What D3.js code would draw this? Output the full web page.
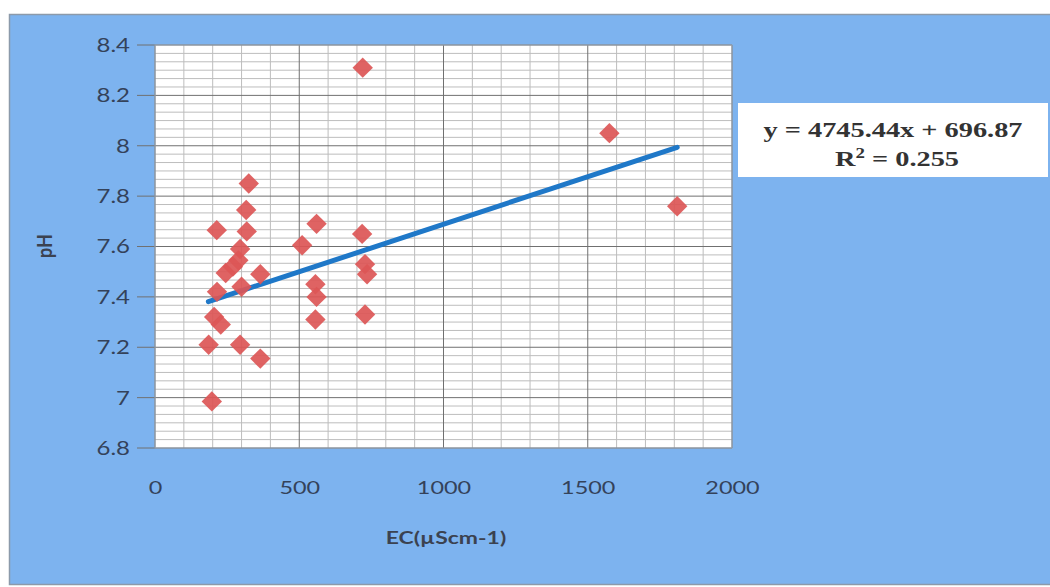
<!DOCTYPE html>
<html>
<head>
<meta charset="utf-8">
<script src="https://cdn.jsdelivr.net/npm/d3@7"></script>
<style>
  html, body { margin: 0; padding: 0; background: #ffffff; }
  svg { display: block; }
</style>
</head>
<body>
<svg id="chart" width="1050" height="587"></svg>
<script>
// EC (µS/cm) against pH for the sampled waters
const ecValues = [720, 1575, 1810, 325, 316, 214, 318, 295, 289, 245, 365, 300, 215, 270,
                  560, 718, 510, 728, 735, 556, 560, 556, 728,
                  205, 228, 186, 295, 365, 197];
const phValues = [8.31, 8.05, 7.76, 7.85, 7.745, 7.665, 7.66, 7.59, 7.545, 7.495, 7.49, 7.44, 7.42, 7.52,
                  7.69, 7.65, 7.605, 7.53, 7.49, 7.45, 7.40, 7.31, 7.33,
                  7.32, 7.29, 7.21, 7.21, 7.155, 6.985];

// Linear trend line, drawn between its two end points
const trendEC = [185, 1810];
const trendPH = [7.381, 7.994];

const xTicks = [0, 500, 1000, 1500, 2000];
const yTicks = [6.8, 7, 7.2, 7.4, 7.6, 7.8, 8, 8.2, 8.4];
const xMinorStep = 100;
const yMinorDivisions = 6;

const equationText = "y = 4745.44x + 696.87";
const r2Value = "0.255";

const svg = d3.select("#chart");

// Background panel
svg.append("rect")
  .attr("x", 9.5).attr("y", 14.5)
  .attr("width", 1045).attr("height", 570)
  .attr("fill", "#7db3ef")
  .attr("stroke", "#8c9aaa")
  .attr("stroke-width", 1.5);

const plot = { left: 155, right: 732, top: 45, bottom: 448 };

const x = d3.scaleLinear().domain([0, 2000]).range([plot.left, plot.right]);
const y = d3.scaleLinear().domain([6.8, 8.4]).range([plot.bottom, plot.top]);

// Plot area
svg.append("rect")
  .attr("x", plot.left).attr("y", plot.top)
  .attr("width", plot.right - plot.left).attr("height", plot.bottom - plot.top)
  .attr("fill", "#ffffff");

const grid = svg.append("g");

// Minor gridlines
const xMinor = d3.range(0, 2000 + 1, xMinorStep).filter(v => v % 500 !== 0);
grid.selectAll("line.xminor").data(xMinor).join("line")
  .attr("x1", d => x(d)).attr("x2", d => x(d))
  .attr("y1", plot.top).attr("y2", plot.bottom)
  .attr("stroke", "#bdbdbd").attr("stroke-width", 1);

const yMinor = [];
for (let i = 0; i < yTicks.length - 1; i++) {
  for (let k = 1; k < yMinorDivisions; k++) {
    yMinor.push(yTicks[i] + (yTicks[i + 1] - yTicks[i]) * k / yMinorDivisions);
  }
}
grid.selectAll("line.yminor").data(yMinor).join("line")
  .attr("x1", plot.left).attr("x2", plot.right)
  .attr("y1", d => y(d)).attr("y2", d => y(d))
  .attr("stroke", "#bdbdbd").attr("stroke-width", 1);

// Major gridlines
grid.selectAll("line.xmajor").data(xTicks).join("line")
  .attr("x1", d => x(d)).attr("x2", d => x(d))
  .attr("y1", plot.top).attr("y2", plot.bottom)
  .attr("stroke", "#707070").attr("stroke-width", 1);
grid.selectAll("line.ymajor").data(yTicks).join("line")
  .attr("x1", plot.left - 18).attr("x2", plot.right)
  .attr("y1", d => y(d)).attr("y2", d => y(d))
  .attr("stroke", "#707070").attr("stroke-width", 1);

// Plot border
svg.append("rect")
  .attr("x", plot.left).attr("y", plot.top)
  .attr("width", plot.right - plot.left).attr("height", plot.bottom - plot.top)
  .attr("fill", "none")
  .attr("stroke", "#9aa6b4").attr("stroke-width", 1);

// Axis labels through d3 axis generators
const labelColor = "#34425a";
const tickFont = "Lato, 'Liberation Sans', sans-serif";

const yAxis = svg.append("g")
  .attr("transform", `translate(${plot.left - 25},0)`)
  .call(d3.axisLeft(y).tickValues(yTicks).tickSize(0).tickPadding(0)
        .tickFormat(d => d3.format("~g")(d)));
yAxis.select(".domain").remove();
yAxis.selectAll("text")
  .attr("x", 0)
  .attr("transform", "scale(1.2,1)")
  .attr("fill", labelColor)
  .style("font-family", tickFont)
  .style("font-size", "20px");

const xAxis = svg.append("g")
  .attr("transform", `translate(0,${plot.bottom + 33})`)
  .call(d3.axisBottom(x).tickValues(xTicks).tickSize(0).tickPadding(0)
        .tickFormat(d3.format("d")));
xAxis.select(".domain").remove();
xAxis.selectAll("text")
  .attr("transform", "scale(1.3,1)")
  .attr("fill", labelColor)
  .style("font-family", tickFont)
  .style("font-size", "18px");

// Axis titles
svg.append("text")
  .attr("transform", "translate(52,246) rotate(-90) scale(1,1.2)")
  .attr("text-anchor", "middle")
  .attr("fill", "#3b4250")
  .style("font-family", tickFont)
  .style("font-weight", "bold")
  .style("font-size", "18px")
  .text("pH");

svg.append("text")
  .attr("transform", "translate(446,544) scale(1.35,1)")
  .attr("text-anchor", "middle")
  .attr("fill", "#3b4250")
  .style("font-family", tickFont)
  .style("font-weight", "bold")
  .style("font-size", "17px")
  .text("EC(µScm-1)");

// Trend line
const points = ecValues.map((v, i) => ({ ec: v, ph: phValues[i] }));
const line = d3.line().x(d => x(d[0])).y(d => y(d[1]));
svg.append("path")
  .datum(trendEC.map((v, i) => [v, trendPH[i]]))
  .attr("d", line)
  .attr("fill", "none")
  .attr("stroke", "#1f78c8")
  .attr("stroke-width", 5)
  .attr("stroke-linecap", "round");

// Markers
const diamond = d3.symbol().type(d3.symbolDiamond2).size(265);
svg.append("g").selectAll("path").data(points).join("path")
  .attr("transform", d => `translate(${x(d.ec)},${y(d.ph)})`)
  .attr("d", diamond)
  .attr("fill", "#dc5656")
  .attr("fill-opacity", 0.92);

// Trend line equation box
svg.append("rect")
  .attr("x", 738).attr("y", 103)
  .attr("width", 310).attr("height", 74)
  .attr("fill", "#ffffff");

const eq = svg.append("g")
  .style("font-family", "'Liberation Serif', 'Times New Roman', serif")
  .style("font-weight", "bold")
  .style("font-size", "21px")
  .attr("fill", "#333333");
eq.append("text")
  .attr("transform", "translate(893,137) scale(1.35,1)")
  .attr("text-anchor", "middle")
  .text(equationText);
const r2 = eq.append("text")
  .attr("transform", "translate(897,166) scale(1.35,1)")
  .attr("text-anchor", "middle");
r2.append("tspan").text("R");
r2.append("tspan").attr("dy", -8).style("font-size", "14px").text("2");
r2.append("tspan").attr("dy", 8).text(" = " + r2Value);
</script>
</body>
</html>
